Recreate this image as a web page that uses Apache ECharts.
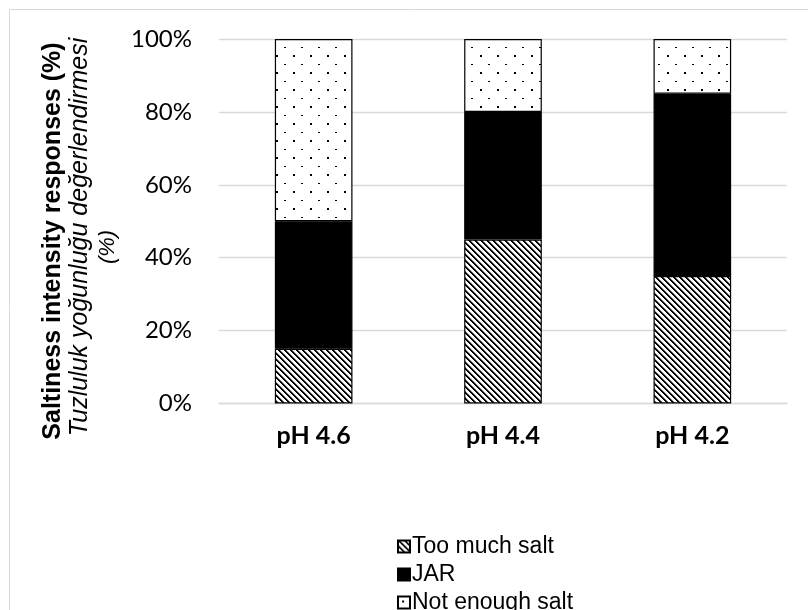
<!DOCTYPE html>
<html>
<head>
<meta charset="utf-8">
<script src="https://cdn.jsdelivr.net/npm/echarts@6/dist/echarts.min.js"></script>
<style>
  html, body { margin: 0; padding: 0; background: #fff; }
  #chart { width: 808px; height: 610px; }
</style>
</head>
<body>
<div id="chart"></div>
<script>
// Response shares (%) per sample, stacked bottom to top
const categories = ['pH 4.6', 'pH 4.4', 'pH 4.2'];
const tooMuchSalt = [15, 45, 35];
const jar = [35, 35, 50];
const notEnoughSalt = [50, 20, 15];
const seriesNames = ['Too much salt', 'JAR', 'Not enough salt'];

// Downward diagonal hatch fill
function hatchPattern() {
  const n = 6;
  const c = document.createElement('canvas');
  c.width = n; c.height = n;
  const ctx = c.getContext('2d');
  ctx.fillStyle = '#fff';
  ctx.fillRect(0, 0, n, n);
  for (let i = 0; i < n; i++) {
    ctx.fillStyle = '#000';
    ctx.fillRect(i, i, 1, 1);
    ctx.fillRect((i + 1) % n, i, 1, 1);
    ctx.fillStyle = '#8a8a8a';
    ctx.fillRect((i + 2) % n, i, 1, 1);
  }
  return c;
}

// Sparse staggered dot fill
function dotPattern() {
  const w = 17, h = 17;
  const c = document.createElement('canvas');
  c.width = w; c.height = h;
  const ctx = c.getContext('2d');
  ctx.fillStyle = '#fff';
  ctx.fillRect(0, 0, w, h);
  ctx.fillStyle = '#000';
  ctx.fillRect(4, 4, 2, 2);
  ctx.fillRect(12, 13, 2, 1);
  return c;
}

const hatch = { image: hatchPattern(), repeat: 'repeat' };
const dots = { image: dotPattern(), repeat: 'repeat' };

const axisFont = 'Lato, "Open Sans", sans-serif';
const legendFont = '"Liberation Sans", Arial, sans-serif';

function barSeries(name, data, fill) {
  return {
    name: name,
    type: 'bar',
    stack: 'total',
    barWidth: '41%',
    data: data,
    itemStyle: { color: fill, borderColor: '#000', borderWidth: 1.2 },
    emphasis: { disabled: true }
  };
}

const chart = echarts.init(document.getElementById('chart'), null, { renderer: 'canvas' });
chart.setOption({
  animation: false,
  backgroundColor: '#fff',
  grid: { left: 219, right: 21, top: 39, bottom: 206.5, containLabel: false },
  xAxis: {
    type: 'category',
    data: categories,
    axisLine: { lineStyle: { color: '#d9d9d9', width: 1.3 } },
    axisTick: { show: false },
    axisLabel: {
      margin: 20,
      color: '#000',
      fontFamily: axisFont,
      fontWeight: 'bold',
      fontSize: 25
    }
  },
  yAxis: {
    type: 'value',
    min: 0,
    max: 100,
    interval: 20,
    axisLine: { show: false },
    axisTick: { show: false },
    splitLine: { lineStyle: { color: '#d9d9d9', width: 1.3 } },
    axisLabel: {
      margin: 27,
      color: '#000',
      fontFamily: axisFont,
      fontSize: 24,
      formatter: '{value}%'
    }
  },
  legend: {
    orient: 'vertical',
    left: 392,
    top: 530,
    height: 120,
    itemWidth: 12,
    itemHeight: 12,
    itemGap: 5,
    icon: 'rect',
    data: seriesNames,
    textStyle: { color: '#000', fontFamily: legendFont, fontSize: 23, padding: [0, 0, 0, -3] }
  },
  graphic: [
    {
      type: 'rect',
      shape: { x: 9.5, y: 9.5, width: 820, height: 620 },
      style: { fill: 'none', stroke: '#d9d9d9', lineWidth: 1 },
      silent: true
    },
    {
      type: 'text',
      x: 53, y: 241, rotation: Math.PI / 2,
      style: {
        text: 'Saltiness intensity responses (%)',
        fill: '#000',
        font: 'bold 25px "Liberation Sans", Arial, sans-serif',
        align: 'center', verticalAlign: 'middle'
      }
    },
    {
      type: 'text',
      x: 80, y: 237, rotation: Math.PI / 2,
      style: {
        text: 'Tuzluluk yoğunluğu değerlendirmesi',
        fill: '#000',
        font: 'italic 25px "Liberation Sans", Arial, sans-serif',
        align: 'center', verticalAlign: 'middle'
      }
    },
    {
      type: 'text',
      x: 108, y: 247, rotation: Math.PI / 2,
      style: {
        text: '(%)',
        fill: '#000',
        font: 'italic 22px "Liberation Sans", Arial, sans-serif',
        align: 'center', verticalAlign: 'middle'
      }
    }
  ],
  series: [
    barSeries(seriesNames[0], tooMuchSalt, hatch),
    barSeries(seriesNames[1], jar, '#000'),
    barSeries(seriesNames[2], notEnoughSalt, dots)
  ]
});
</script>
</body>
</html>
